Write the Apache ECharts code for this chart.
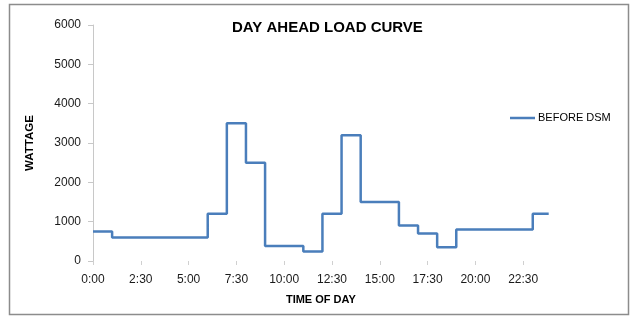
<!DOCTYPE html>
<html>
<head>
<meta charset="utf-8">
<script src="https://cdn.jsdelivr.net/npm/echarts@6/dist/echarts.min.js"></script>
<style>html,body{margin:0;padding:0;background:#fff;}#c{width:634px;height:318px;}</style>
</head>
<body>
<div id="c"></div>
<script>
// Data (hourly load, held until the next time point)
const times = ['0:00','1:00','2:00','3:00','4:00','5:00','6:00','7:00','8:00','9:00','10:00','11:00',
  '12:00','13:00','14:00','15:00','16:00','17:00','18:00','19:00','20:00','21:00','22:00','23:00','23:50'];
const beforeDSM = [750,600,600,600,600,600,1200,3500,2500,380,380,240,
  1200,3200,1500,1500,900,700,350,800,800,800,800,1200,1200];
const xTickLabels = ['0:00','2:30','5:00','7:30','10:00','12:30','15:00','17:30','20:00','22:30'];
const yTicks = [0,1000,2000,3000,4000,5000,6000];

function toHours(s){const p=s.split(':');return +p[0]+(+p[1])/60;}
function fmt(h){const H=Math.floor(h+1e-9);const M=Math.round((h-H)*60);return H+':'+(M<10?'0':'')+M;}

const chart = echarts.init(document.getElementById('c'), null, {renderer:'canvas'});
const xEnd = toHours(times[times.length-1]);
chart.setOption({
  animation:false,
  backgroundColor:'#ffffff',
  graphic:[{type:'rect',shape:{x:9.5,y:4.5,width:619,height:310},style:{fill:'none',stroke:'#8c8c8c',lineWidth:1.5},silent:true}],
  title:{text:'DAY AHEAD LOAD CURVE',left:232,top:20,padding:0,
    textStyle:{fontFamily:'Liberation Sans, Arial, sans-serif',fontSize:15,fontWeight:'bold',color:'#000'}},
  legend:{show:true,left:510,top:112.5,padding:0,itemWidth:25,itemHeight:2.5,icon:'rect',
    textStyle:{fontFamily:'Liberation Sans, Arial, sans-serif',fontSize:11,color:'#000',padding:[0,0,0,-2]},
    data:[{name:'BEFORE DSM'}]},
  grid:{left:93,top:25,right:634-(93+xEnd*19.12),bottom:57,containLabel:false},
  xAxis:{type:'value',min:0,max:xEnd,
    name:'TIME OF DAY',nameLocation:'middle',nameGap:33,
    nameTextStyle:{fontFamily:'Liberation Sans, Arial, sans-serif',fontSize:11,fontWeight:'bold',color:'#000'},
    axisLine:{show:false},
    splitLine:{show:false},
    axisTick:{show:true,inside:false,length:4,lineStyle:{color:'#d0d0d0',width:1},customValues:xTickLabels.map(toHours)},
    axisLabel:{customValues:xTickLabels.map(toHours),formatter:v=>fmt(v),margin:13,
      fontFamily:'Liberation Sans, Arial, sans-serif',fontSize:12,color:'#1a1a1a'}
  },
  yAxis:{type:'value',min:0,max:6000,interval:1000,
    name:'WATTAGE',nameLocation:'middle',nameGap:57,nameRotate:90,
    nameTextStyle:{fontFamily:'Liberation Sans, Arial, sans-serif',fontSize:11.5,fontWeight:'bold',color:'#000'},
    axisLine:{show:true,lineStyle:{color:'#c8c8c8',width:1}},
    axisTick:{show:true,length:5,lineStyle:{color:'#c8c8c8'}},
    splitLine:{show:false},
    axisLabel:{margin:12,fontFamily:'Liberation Sans, Arial, sans-serif',fontSize:12,color:'#1a1a1a',
      formatter:v=>yTicks.indexOf(v)>=0?String(v):''}
  },
  series:[{name:'BEFORE DSM',type:'line',step:'end',symbol:'none',
    data:times.map((t,i)=>[toHours(t),beforeDSM[i]]),
    lineStyle:{color:'#4a7ebb',width:2.5},itemStyle:{color:'#4a7ebb'}}]
});
</script>
</body>
</html>
